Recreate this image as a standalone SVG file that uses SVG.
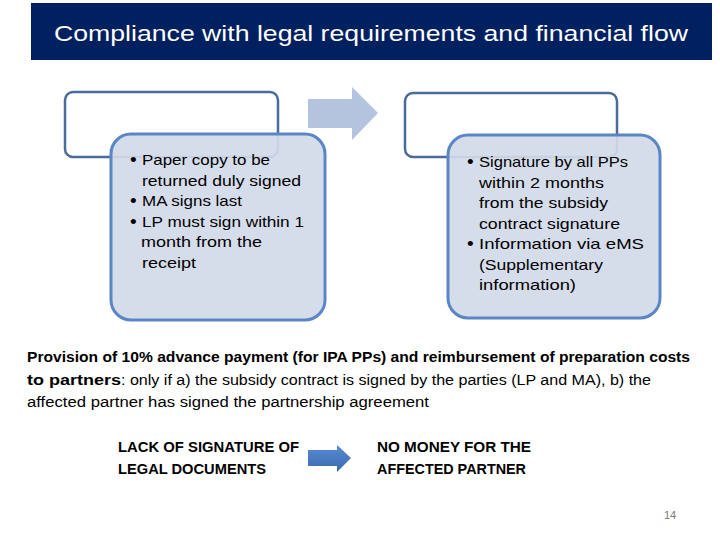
<svg xmlns="http://www.w3.org/2000/svg" width="720" height="540" viewBox="0 0 720 540">
<defs>
<style>
.t{font-family:"Liberation Sans","Noto Sans",sans-serif;fill:#000}
.box{font-size:15px}
.bul{font-size:19px}
.back{fill:#fff;stroke:#4a6b9c;stroke-width:2.5}
.front{fill:#d3dae8;fill-opacity:0.92;stroke:#5a86c6;stroke-width:3}
.p{font-size:14px}
.b{font-weight:bold}
</style>
<linearGradient id="ag" x1="0" y1="0" x2="0" y2="1">
<stop offset="0" stop-color="#5a8ad0"/>
<stop offset="1" stop-color="#3a6aae"/>
</linearGradient>
</defs>
<rect width="720" height="540" fill="#fff"/>
<g id="title">
<rect x="31" y="3" width="681" height="57" fill="#002060"/>
<text class="t" x="54" y="41" font-size="22" style="fill:#fff" textLength="634" lengthAdjust="spacingAndGlyphs">Compliance with legal requirements and financial flow</text>
</g>
<g id="connectors">
<polygon points="308,99 352,99 352,87 378,113 352,140 352,128 308,128" fill="#b4c3de"/>
<polygon points="308,450 337,450 337,445 351,458 337,472 337,466 308,466" fill="url(#ag)"/>
</g>
<g id="node-left">
<rect class="back" x="65" y="92" width="213" height="65" rx="8"/>
<rect class="front" x="111" y="134" width="214" height="186" rx="20"/>
<g class="t box">
<text class="bul" x="130" y="166">•</text><text x="142" y="165" textLength="128" lengthAdjust="spacingAndGlyphs">Paper copy to be</text>
<text x="142" y="186" textLength="159" lengthAdjust="spacingAndGlyphs">returned duly signed</text>
<text class="bul" x="130" y="207">•</text><text x="142" y="206" textLength="100" lengthAdjust="spacingAndGlyphs">MA signs last</text>
<text class="bul" x="130" y="228">•</text><text x="142" y="227" textLength="162" lengthAdjust="spacingAndGlyphs">LP must sign within 1</text>
<text x="141" y="247" textLength="121" lengthAdjust="spacingAndGlyphs">month from the</text>
<text x="142" y="268" textLength="54" lengthAdjust="spacingAndGlyphs">receipt</text>
</g>
</g>
<g id="node-right">
<rect class="back" x="405" y="93" width="212" height="64" rx="8"/>
<rect class="front" x="448" y="135" width="212" height="183" rx="20"/>
<g class="t box">
<text class="bul" x="467" y="168">•</text><text x="479" y="167" textLength="149" lengthAdjust="spacingAndGlyphs">Signature by all PPs</text>
<text x="479" y="188" textLength="125" lengthAdjust="spacingAndGlyphs">within 2 months</text>
<text x="479" y="208" textLength="129" lengthAdjust="spacingAndGlyphs">from the subsidy</text>
<text x="479" y="229" textLength="141" lengthAdjust="spacingAndGlyphs">contract signature</text>
<text class="bul" x="467" y="250">•</text><text x="479" y="249" textLength="165" lengthAdjust="spacingAndGlyphs">Information via eMS</text>
<text x="479" y="270" textLength="124" lengthAdjust="spacingAndGlyphs">(Supplementary</text>
<text x="479" y="290" textLength="97" lengthAdjust="spacingAndGlyphs">information)</text>
</g>
</g>
<g id="paragraph" class="t p">
<text class="b" x="27" y="362" textLength="663" lengthAdjust="spacingAndGlyphs">Provision of 10% advance payment (for IPA PPs) and reimbursement of preparation costs</text>
<text class="b" x="27" y="385" textLength="94" lengthAdjust="spacingAndGlyphs">to partners</text>
<text x="121" y="385" textLength="530" lengthAdjust="spacingAndGlyphs">: only if a) the subsidy contract is signed by the parties (LP and MA), b) the</text>
<text x="27" y="407" textLength="402" lengthAdjust="spacingAndGlyphs">affected partner has signed the partnership agreement</text>
</g>
<g id="node-lack" class="t p b">
<text x="118" y="452" textLength="181" lengthAdjust="spacingAndGlyphs">LACK OF  SIGNATURE OF</text>
<text x="118" y="474" textLength="148" lengthAdjust="spacingAndGlyphs">LEGAL DOCUMENTS</text>
</g>
<g id="node-money" class="t p b">
<text x="377" y="452" textLength="154" lengthAdjust="spacingAndGlyphs">NO MONEY FOR THE</text>
<text x="377" y="474" textLength="149" lengthAdjust="spacingAndGlyphs">AFFECTED PARTNER</text>
</g>
<text class="t" x="664" y="519" font-size="11" style="fill:#777">14</text>
</svg>
